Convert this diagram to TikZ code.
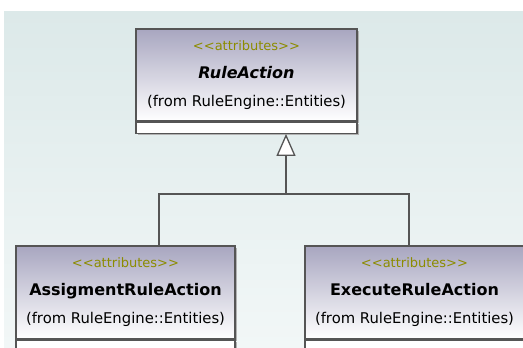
\documentclass[tikz,border=0pt]{standalone}
\usepackage{fontspec}
\setmainfont{DejaVu Sans}
\usetikzlibrary{positioning,shadows,arrows.meta}
\definecolor{bgtop}{RGB}{220,233,233}
\definecolor{bgbottom}{RGB}{242,247,247}
\definecolor{boxtop}{RGB}{168,166,192}
\definecolor{stereocol}{RGB}{140,140,0}
\definecolor{umlline}{RGB}{85,85,85}
\newcommand{\attrstereo}{{\fontsize{13}{28}\selectfont\color{stereocol}<\kern0pt<attributes>\kern0pt>}}

\begin{document}
\begin{tikzpicture}[x=1pt,y=-1pt,
    boxshadow/.style={drop shadow={shadow xshift=2pt,shadow yshift=-2pt,fill=black!30,opacity=1}},
    classbox/.style={draw=umlline,line width=1.3pt,top color=boxtop,bottom color=white,
        minimum width=219pt,minimum height=93pt,inner sep=0pt,align=center,
        font=\fontsize{14.8}{28}\selectfont,boxshadow},
    attrbox/.style={draw=umlline,line width=1.3pt,fill=white,
        minimum width=219pt,minimum height=20pt,inner sep=0pt,boxshadow},
    link/.style={draw=umlline,line width=1.3pt}]
    \clip (0,0) rectangle (523,348);

    % background panel
    \fill[white] (0,0) rectangle (523,348);
    \shade[top color=bgtop,bottom color=bgbottom] (4,11) rectangle (523,348);

    % parent class
    \node[classbox,minimum width=221pt,minimum height=92pt] (ruleaction) at (246.5,75)
        {\attrstereo\\ {\fontsize{16}{28}\selectfont\bfseries\itshape RuleAction}\\ (from RuleEngine::Entities)};
    \node[attrbox,minimum width=221pt,minimum height=11pt,below=0pt of ruleaction] (ruleaction-attr) {};

    % child classes
    \node[classbox] (assign) at (125.5,292.5)
        {\attrstereo\\ {\fontsize{16}{28}\selectfont\bfseries AssigmentRuleAction}\\ (from RuleEngine::Entities)};
    \node[attrbox,below=0pt of assign] (assign-attr) {};

    \node[classbox] (execute) at (414.5,292.5)
        {\attrstereo\\ {\fontsize{16}{28}\selectfont\bfseries ExecuteRuleAction}\\ (from RuleEngine::Entities)};
    \node[attrbox,below=0pt of execute] (execute-attr) {};

    % generalisation
    \coordinate (join) at (286,194);
    \draw[link] ([xshift=33.5pt]assign.north) |- (join);
    \draw[link] ([xshift=-5.5pt]execute.north) |- (join);
    \draw[link,line width=2.2pt,-{Triangle[width=19pt,length=22pt,fill=white,line width=1.3pt]}]
        (join) -- ([xshift=39.5pt]ruleaction-attr.south);
\end{tikzpicture}
\end{document}
